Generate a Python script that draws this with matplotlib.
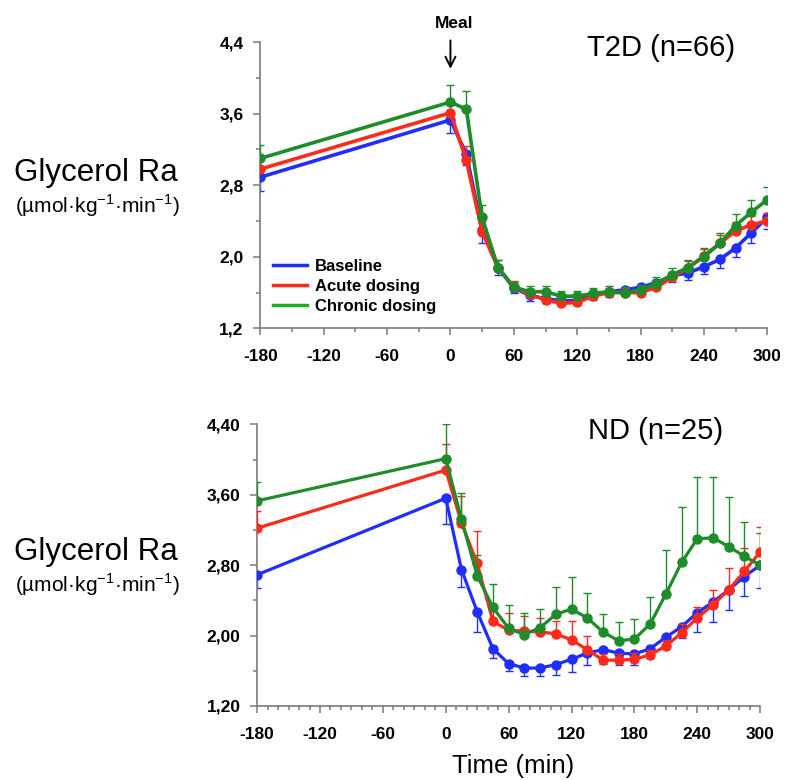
import matplotlib
matplotlib.use("Agg")
import matplotlib.pyplot as plt
import numpy as np
from matplotlib.ticker import MultipleLocator

plt.rcParams['font.family'] = ['Liberation Sans', 'DejaVu Sans']
plt.rcParams['mathtext.fontset'] = 'custom'
plt.rcParams['mathtext.rm'] = 'Liberation Sans'

# time points (min)
t = [-180, 0, 15, 30, 45, 60, 75, 90, 105, 120, 135, 150, 165, 180, 195, 210, 225, 240, 255, 270, 285, 300]

# T2D panel
blue_t2d = [2.89, 3.53, 3.15, 2.30, 1.88, 1.65, 1.57, 1.53, 1.51, 1.51, 1.58, 1.61, 1.63, 1.66, 1.71, 1.79, 1.82, 1.89, 1.97, 2.10, 2.27, 2.44]
red_t2d = [2.98, 3.61, 3.08, 2.28, 1.88, 1.66, 1.58, 1.52, 1.48, 1.49, 1.56, 1.60, 1.60, 1.60, 1.66, 1.77, 1.88, 2.01, 2.15, 2.29, 2.36, 2.40]
green_t2d = [3.10, 3.73, 3.65, 2.44, 1.88, 1.66, 1.61, 1.61, 1.56, 1.56, 1.59, 1.61, 1.60, 1.63, 1.70, 1.80, 1.88, 2.00, 2.15, 2.35, 2.50, 2.64]
blue_t2d_err = [0.15, 0.15, 0.12, 0.14, 0.08, 0.06, 0.06, 0.05, 0.05, 0.05, 0.06, 0.06, 0.06, 0.06, 0.06, 0.07, 0.08, 0.08, 0.09, 0.10, 0.12, 0.13]
red_t2d_err = [0.15, 0.15, 0.16, 0.12, 0.08, 0.07, 0.06, 0.05, 0.05, 0.05, 0.05, 0.05, 0.05, 0.05, 0.05, 0.06, 0.07, 0.08, 0.09, 0.10, 0.10, 0.09]
green_t2d_err = [0.15, 0.19, 0.20, 0.14, 0.08, 0.06, 0.06, 0.06, 0.06, 0.06, 0.06, 0.06, 0.06, 0.06, 0.07, 0.07, 0.08, 0.10, 0.12, 0.13, 0.13, 0.14]

# ND panel
blue_nd = [2.69, 3.56, 2.75, 2.27, 1.85, 1.68, 1.63, 1.63, 1.67, 1.73, 1.80, 1.84, 1.80, 1.79, 1.85, 1.98, 2.10, 2.26, 2.38, 2.52, 2.67, 2.80]
red_nd = [3.22, 3.88, 3.28, 2.82, 2.16, 2.06, 2.05, 2.04, 2.02, 1.95, 1.84, 1.72, 1.72, 1.73, 1.78, 1.88, 2.03, 2.20, 2.35, 2.52, 2.73, 2.95]
green_nd = [3.53, 4.01, 3.32, 2.68, 2.32, 2.08, 2.01, 2.09, 2.24, 2.30, 2.20, 2.04, 1.94, 1.96, 2.13, 2.47, 2.83, 3.10, 3.11, 3.01, 2.90, 2.80]
blue_nd_err = [0.15, 0.29, 0.20, 0.23, 0.11, 0.08, 0.09, 0.09, 0.12, 0.14, 0.13, 0.16, 0.13, 0.12, 0.11, 0.12, 0.13, 0.22, 0.23, 0.23, 0.22, 0.26]
red_nd_err = [0.20, 0.30, 0.30, 0.37, 0.15, 0.20, 0.17, 0.16, 0.15, 0.21, 0.16, 0.07, 0.07, 0.07, 0.05, 0.07, 0.10, 0.12, 0.17, 0.25, 0.26, 0.28]
green_nd_err = [0.22, 0.39, 0.30, 0.24, 0.27, 0.27, 0.25, 0.21, 0.31, 0.37, 0.28, 0.20, 0.21, 0.23, 0.31, 0.50, 0.63, 0.70, 0.69, 0.56, 0.39, 0.36]

labels = ["Baseline", "Acute dosing", "Chronic dosing"]
colors = ["#1f2eff", "#ff2a1a", "#1e8c2a"]
legend_colors = ["#1f2eff", "#ff2a1a", "#18b018"]

x_ticks = [-180, -120, -60, 0, 60, 120, 180, 240, 300]
y_ticks = [1.2, 2.0, 2.8, 3.6, 4.4]
y_labels_t2d = ["1,2", "2,0", "2,8", "3,6", "4,4"]
y_labels_nd = ["1,20", "2,00", "2,80", "3,60", "4,40"]

fig = plt.figure(figsize=(7.96, 7.8), dpi=100)
ax1 = fig.add_axes([0.327, 0.579, 0.637, 0.367])
ax2 = fig.add_axes([0.323, 0.095, 0.632, 0.361])


def draw(ax, series, errs, lw):
    for i, (y, e) in enumerate(zip(series, errs)):
        zero = np.zeros(len(e))
        # baseline bars go down, the others go up
        yerr = [e, zero] if i == 0 else [zero, e]
        ax.errorbar(t, y, yerr=yerr, fmt='none', ecolor=colors[i], elinewidth=1,
                    capsize=3, capthick=1, zorder=2 + i)
        ax.plot(t, y, color=colors[i], lw=lw, marker='o', ms=6.5, zorder=3 + i)


def style(ax, ylabels, xminor):
    ax.set_xlim(-180, 300)
    ax.set_ylim(1.2, 4.4)
    ax.set_xticks(x_ticks)
    ax.set_xticklabels([str(v) for v in x_ticks])
    ax.xaxis.set_minor_locator(MultipleLocator(xminor))
    ax.set_yticks(y_ticks)
    ax.set_yticklabels(ylabels)
    ax.yaxis.set_minor_locator(MultipleLocator(0.4))
    for s in ['top', 'right']:
        ax.spines[s].set_visible(False)
    for s in ['left', 'bottom']:
        ax.spines[s].set_color('#7a7a7a')
        ax.spines[s].set_linewidth(1.2)
    ax.tick_params(which='both', color='#7a7a7a', width=1.1)
    ax.tick_params(which='major', length=5, pad=7)
    ax.tick_params(which='minor', length=3)
    ax.tick_params(axis='x', which='major', pad=10)
    for lab in ax.get_xticklabels() + ax.get_yticklabels():
        lab.set_fontweight('bold')
        lab.set_fontsize(12.5)


draw(ax1, [blue_t2d, red_t2d, green_t2d], [blue_t2d_err, red_t2d_err, green_t2d_err], 2.6)
draw(ax2, [blue_nd, red_nd, green_nd], [blue_nd_err, red_nd_err, green_nd_err], 2.3)
style(ax1, y_labels_t2d, 30)
style(ax2, y_labels_nd, 10)

handles = [plt.Line2D([], [], color=c, lw=2.5) for c in legend_colors]
ax1.legend(handles, labels, loc='upper left', bbox_to_anchor=(0.026, 0.243), frameon=False,
           prop={'weight': 'bold', 'size': 12}, handlelength=2.0, handletextpad=0.5,
           labelspacing=0.3, borderpad=0, borderaxespad=0)

ax1.text(0.79, 0.98, "T2D (n=66)", transform=ax1.transAxes, fontsize=21,
         ha='center', va='center')
ax2.text(0.792, 0.975, "ND (n=25)", transform=ax2.transAxes, fontsize=21,
         ha='center', va='center')

# meal marker
fig.text(454 / 796, 1 - 23 / 780, "Meal", fontsize=12.5, fontweight='bold',
         ha='center', va='center')
ax1.annotate("", xy=(0, 4.07), xytext=(0, 4.45), xycoords='data',
             arrowprops=dict(arrowstyle='->', color='black', lw=1.4, mutation_scale=18),
             annotation_clip=False)

# y labels
for yc in [173, 552]:
    fig.text(96 / 796, 1 - yc / 780, "Glycerol Ra", fontsize=22.5, ha='center', va='center')
    fig.text(97 / 796, 1 - (yc + 33) / 780, r"(µmol·kg$^{-1}$·min$^{-1}$)", fontsize=15,
             ha='center', va='center')

fig.text(513 / 796, 1 - 766 / 780, "Time (min)", fontsize=18.5, ha='center', va='center')

fig.savefig("out.png", dpi=100)
